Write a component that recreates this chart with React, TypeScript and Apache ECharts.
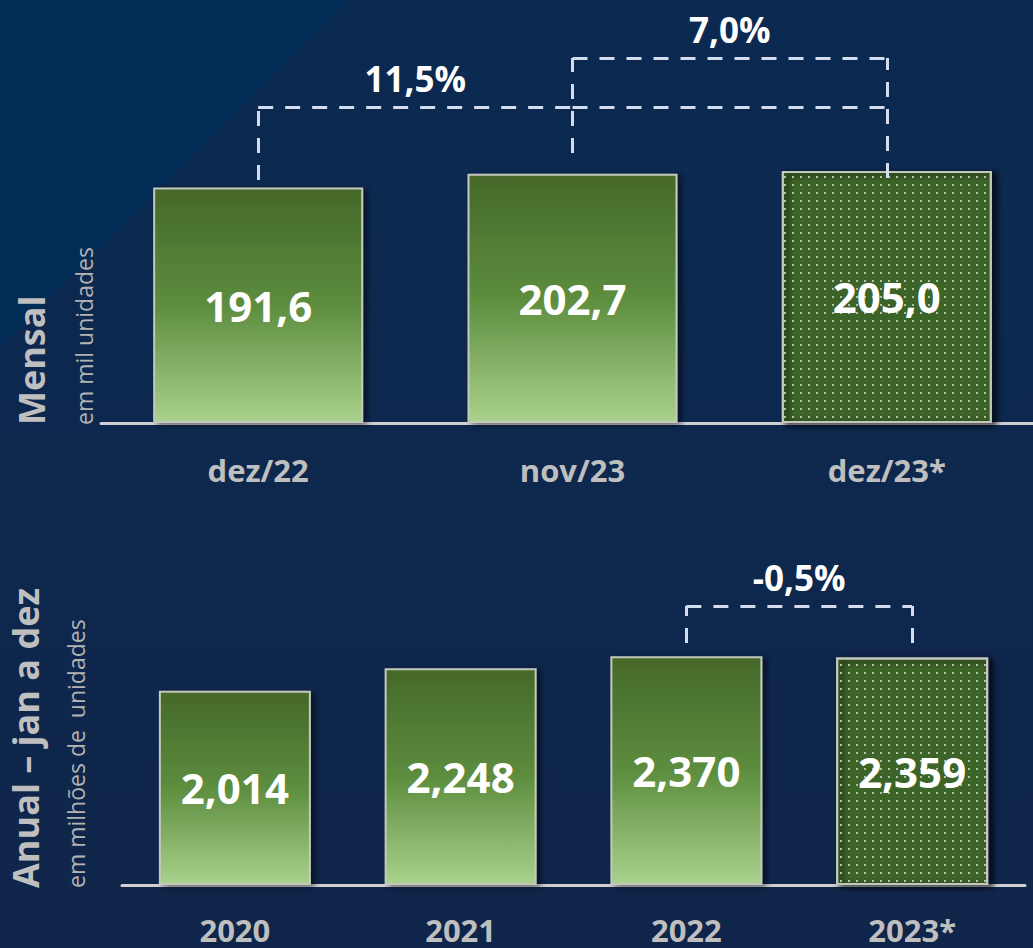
import { useEffect, useRef } from 'react';
import * as echarts from 'echarts';

const monthlyCategories = ['dez/22', 'nov/23', 'dez/23*'];
const monthlyValues = [191.6, 202.7, 205.0];
const monthlyProjected = 'dez/23*';

const annualCategories = ['2020', '2021', '2022', '2023*'];
const annualValues = [2.014, 2.248, 2.370, 2.359];
const annualProjected = '2023*';

// Bracket annotations (data units): from/to categories, bracket level, end of each leg
const monthlyChanges = [
  { label: '11,5%', from: 'dez/22', to: 'dez/23*', labelTo: 'nov/23', level: 257, fromEnd: 197.7, toEnd: 199.3 },
  { label: '7,0%', from: 'nov/23', to: 'dez/23*', labelTo: 'dez/23*', level: 296.9, fromEnd: 219.6, toEnd: 199.3 },
];
const annualChanges = [
  { label: '-0,5%', from: '2022', to: '2023*', labelTo: '2023*', level: 2.892, fromEnd: 2.509, toEnd: 2.509 },
];

const FONT = '"Open Sans", "Liberation Sans", sans-serif';
const BRACKET_COLOR = '#d3ddef';

function bracketLines(changes: any[]) {
  const data: any[] = [];
  changes.forEach((c) => {
    data.push([{ coord: [c.from, c.fromEnd] }, { coord: [c.from, c.level] }]);
    data.push([{ coord: [c.to, c.toEnd] }, { coord: [c.to, c.level] }]);
    data.push([
      { coord: [c.from, c.level], label: { show: true, formatter: c.label } },
      { coord: [c.labelTo, c.level] },
    ]);
    if (c.labelTo !== c.to) {
      data.push([{ coord: [c.labelTo, c.level] }, { coord: [c.to, c.level] }]);
    }
  });
  return {
    silent: true,
    symbol: 'none',
    animation: false,
    lineStyle: { color: BRACKET_COLOR, width: 3, type: [15, 12] },
    label: {
      show: false,
      position: 'middle',
      distance: 11,
      color: '#ffffff',
      fontSize: 35,
      fontWeight: 'bold',
      fontFamily: FONT,
    },
    emphasis: { disabled: true },
    data,
  };
}

const barGradient = () =>
  new echarts.graphic.LinearGradient(0, 0, 0, 1, [
    { offset: 0, color: '#45682a' },
    { offset: 0.5, color: '#5d8d3e' },
    { offset: 1, color: '#a9d28c' },
  ]);

const baseItemStyle = () => ({
  color: barGradient(),
  borderColor: '#c3c9bc',
  borderWidth: 2,
  shadowColor: 'rgba(0,0,0,0.55)',
  shadowBlur: 6,
  shadowOffsetX: 4,
  shadowOffsetY: 2,
});

const dottedItemStyle = () => ({
  color: '#41672a',
  borderColor: '#c3c9bc',
  borderWidth: 2,
  shadowColor: 'rgba(0,0,0,0.55)',
  shadowBlur: 6,
  shadowOffsetX: 4,
  shadowOffsetY: 2,
  decal: {
    symbol: 'rect',
    symbolSize: 1,
    color: 'rgba(225,232,215,0.7)',
    dashArrayX: [2, 6],
    dashArrayY: [2, 6],
    rotation: 0,
  },
});

function barData(categories: string[], values: number[], projected: string) {
  return values.map((v, i) => ({
    value: v,
    itemStyle: categories[i] === projected ? dottedItemStyle() : baseItemStyle(),
  }));
}

const fmt = (v: number, d: number) => v.toFixed(d).replace('.', ',');

export default function App() {
  const ref = useRef<HTMLDivElement>(null);

  useEffect(() => {
    if (!ref.current) return;
    const chart = echarts.init(ref.current, null, { renderer: 'svg' });

    const axisLabelStyle = {
      color: '#bfbfbf',
      fontSize: 31,
      fontWeight: 'bold',
      fontFamily: FONT,
    };

    const valueLabel = (d: number) => ({
      show: true,
      position: 'inside',
      color: '#ffffff',
      fontSize: 42,
      fontWeight: 'bold',
      fontFamily: FONT,
      formatter: (p: any) => fmt(p.value, d),
    });

    chart.setOption({
      animation: false,
      graphic: [
        {
          type: 'rect',
          z: -10,
          silent: true,
          shape: { x: 0, y: 0, width: 1033, height: 948 },
          style: {
            fill: new echarts.graphic.LinearGradient(0, 0, 0, 1, [
              { offset: 0, color: '#0b2a51' },
              { offset: 1, color: '#10254a' },
            ]),
          },
        },
        {
          type: 'polygon',
          z: -9,
          silent: true,
          shape: { points: [[0, 0], [348, 0], [0, 348]] },
          style: { fill: '#012c55' },
        },
        {
          type: 'text',
          x: 31,
          y: 425,
          rotation: Math.PI / 2,
          style: { text: 'Mensal', fill: '#bfbfbf', fontSize: 36, fontWeight: 'bold', fontFamily: FONT, align: 'left', verticalAlign: 'middle' },
        },
        {
          type: 'text',
          x: 84,
          y: 425,
          rotation: Math.PI / 2,
          style: { text: 'em mil unidades', fill: '#b3b3b3', fontSize: 23, fontFamily: FONT, align: 'left', verticalAlign: 'middle' },
        },
        {
          type: 'text',
          x: 25,
          y: 888,
          rotation: Math.PI / 2,
          style: { text: 'Anual – jan a dez', fill: '#bfbfbf', fontSize: 36, fontWeight: 'bold', fontFamily: FONT, align: 'left', verticalAlign: 'middle' },
        },
        {
          type: 'text',
          x: 76,
          y: 888,
          rotation: Math.PI / 2,
          style: { text: 'em milhões de  unidades', fill: '#b3b3b3', fontSize: 23, fontFamily: FONT, align: 'left', verticalAlign: 'middle' },
        },
      ],
      grid: [
        { left: 101, right: -11, top: 5, bottom: 525, outerBoundsMode: 'none', containLabel: false },
        { left: 122, right: 8, top: 557, bottom: 63, outerBoundsMode: 'none', containLabel: false },
      ],
      xAxis: [
        {
          type: 'category',
          gridIndex: 0,
          data: monthlyCategories,
          axisLine: { lineStyle: { color: '#d0d0d0', width: 3 } },
          axisTick: { show: false },
          axisLabel: { ...axisLabelStyle, margin: 31 },
        },
        {
          type: 'category',
          gridIndex: 1,
          data: annualCategories,
          axisLine: { lineStyle: { color: '#d0d0d0', width: 3 } },
          axisTick: { show: false },
          axisLabel: { ...axisLabelStyle, margin: 29 },
        },
      ],
      yAxis: [
        { type: 'value', gridIndex: 0, min: 0, max: 340, show: false, splitLine: { show: false } },
        { type: 'value', gridIndex: 1, min: 0, max: 3.4, show: false, splitLine: { show: false } },
      ],
      series: [
        {
          type: 'bar',
          xAxisIndex: 0,
          yAxisIndex: 0,
          barWidth: 210,
          data: barData(monthlyCategories, monthlyValues, monthlyProjected),
          label: valueLabel(1),
          markLine: bracketLines(monthlyChanges),
          silent: true,
        },
        {
          type: 'bar',
          xAxisIndex: 1,
          yAxisIndex: 1,
          barWidth: 152,
          data: barData(annualCategories, annualValues, annualProjected),
          label: valueLabel(3),
          markLine: bracketLines(annualChanges),
          silent: true,
        },
      ],
    });

    return () => chart.dispose();
  }, []);

  return (
    <div
      ref={ref}
      style={{ position: 'absolute', left: 0, top: 0, width: 1033, height: 948, overflow: 'hidden' }}
    />
  );
}
